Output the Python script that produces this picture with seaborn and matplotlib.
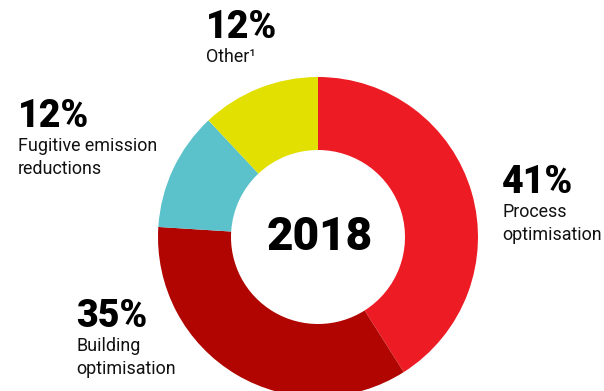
import matplotlib
matplotlib.use("Agg")
import matplotlib.pyplot as plt
import seaborn as sns

# Share of emission reductions by initiative type, 2018
categories = ["Process\noptimisation", "Building\noptimisation",
              "Fugitive emission\nreductions", "Other¹"]
shares = [41, 35, 12, 12]
pct_labels = ["41%", "35%", "12%", "12%"]
year_label = "2018"

colors = ["#ED1C24", "#B00500", "#5BC2CB", "#E2E000"]

sns.set_theme(style="white")
plt.rcParams["font.family"] = ["Roboto", "DejaVu Sans"]

W, H = 604, 391
fig = plt.figure(figsize=(W / 100, H / 100), dpi=100)
ax = fig.add_axes([0, 0, 1, 1])

# Donut placed in pixel-like coordinates (y measured upward)
cx, cy = 318, H - 237
R_out, R_in = 160, 87
ax.pie(shares, colors=sns.color_palette(colors), startangle=90, counterclock=False,
       center=(cx, cy), radius=R_out,
       wedgeprops=dict(width=R_out - R_in, linewidth=0))
ax.set_xlim(0, W)
ax.set_ylim(0, H)
ax.set_aspect("auto")
ax.axis("off")

ax.text(cx + 2, cy, year_label, ha="center", va="center", fontsize=33,
        fontweight="black", color="black")

# Label anchors: (x, baseline of percentage) in pixels from the top
anchors = [(502, 193), (76, 327), (18, 127), (206, 38)]
for (x, y), pct, name in zip(anchors, pct_labels, categories):
    ax.text(x, H - y, pct, ha="left", va="baseline", fontsize=27,
            fontweight="black", color="black")
    for i, line in enumerate(name.split("\n")):
        ax.text(x, H - (y + 24 + 23 * i), line, ha="left", va="baseline",
                fontsize=12.9, color="#111111")

fig.savefig("out.png", dpi=100)
